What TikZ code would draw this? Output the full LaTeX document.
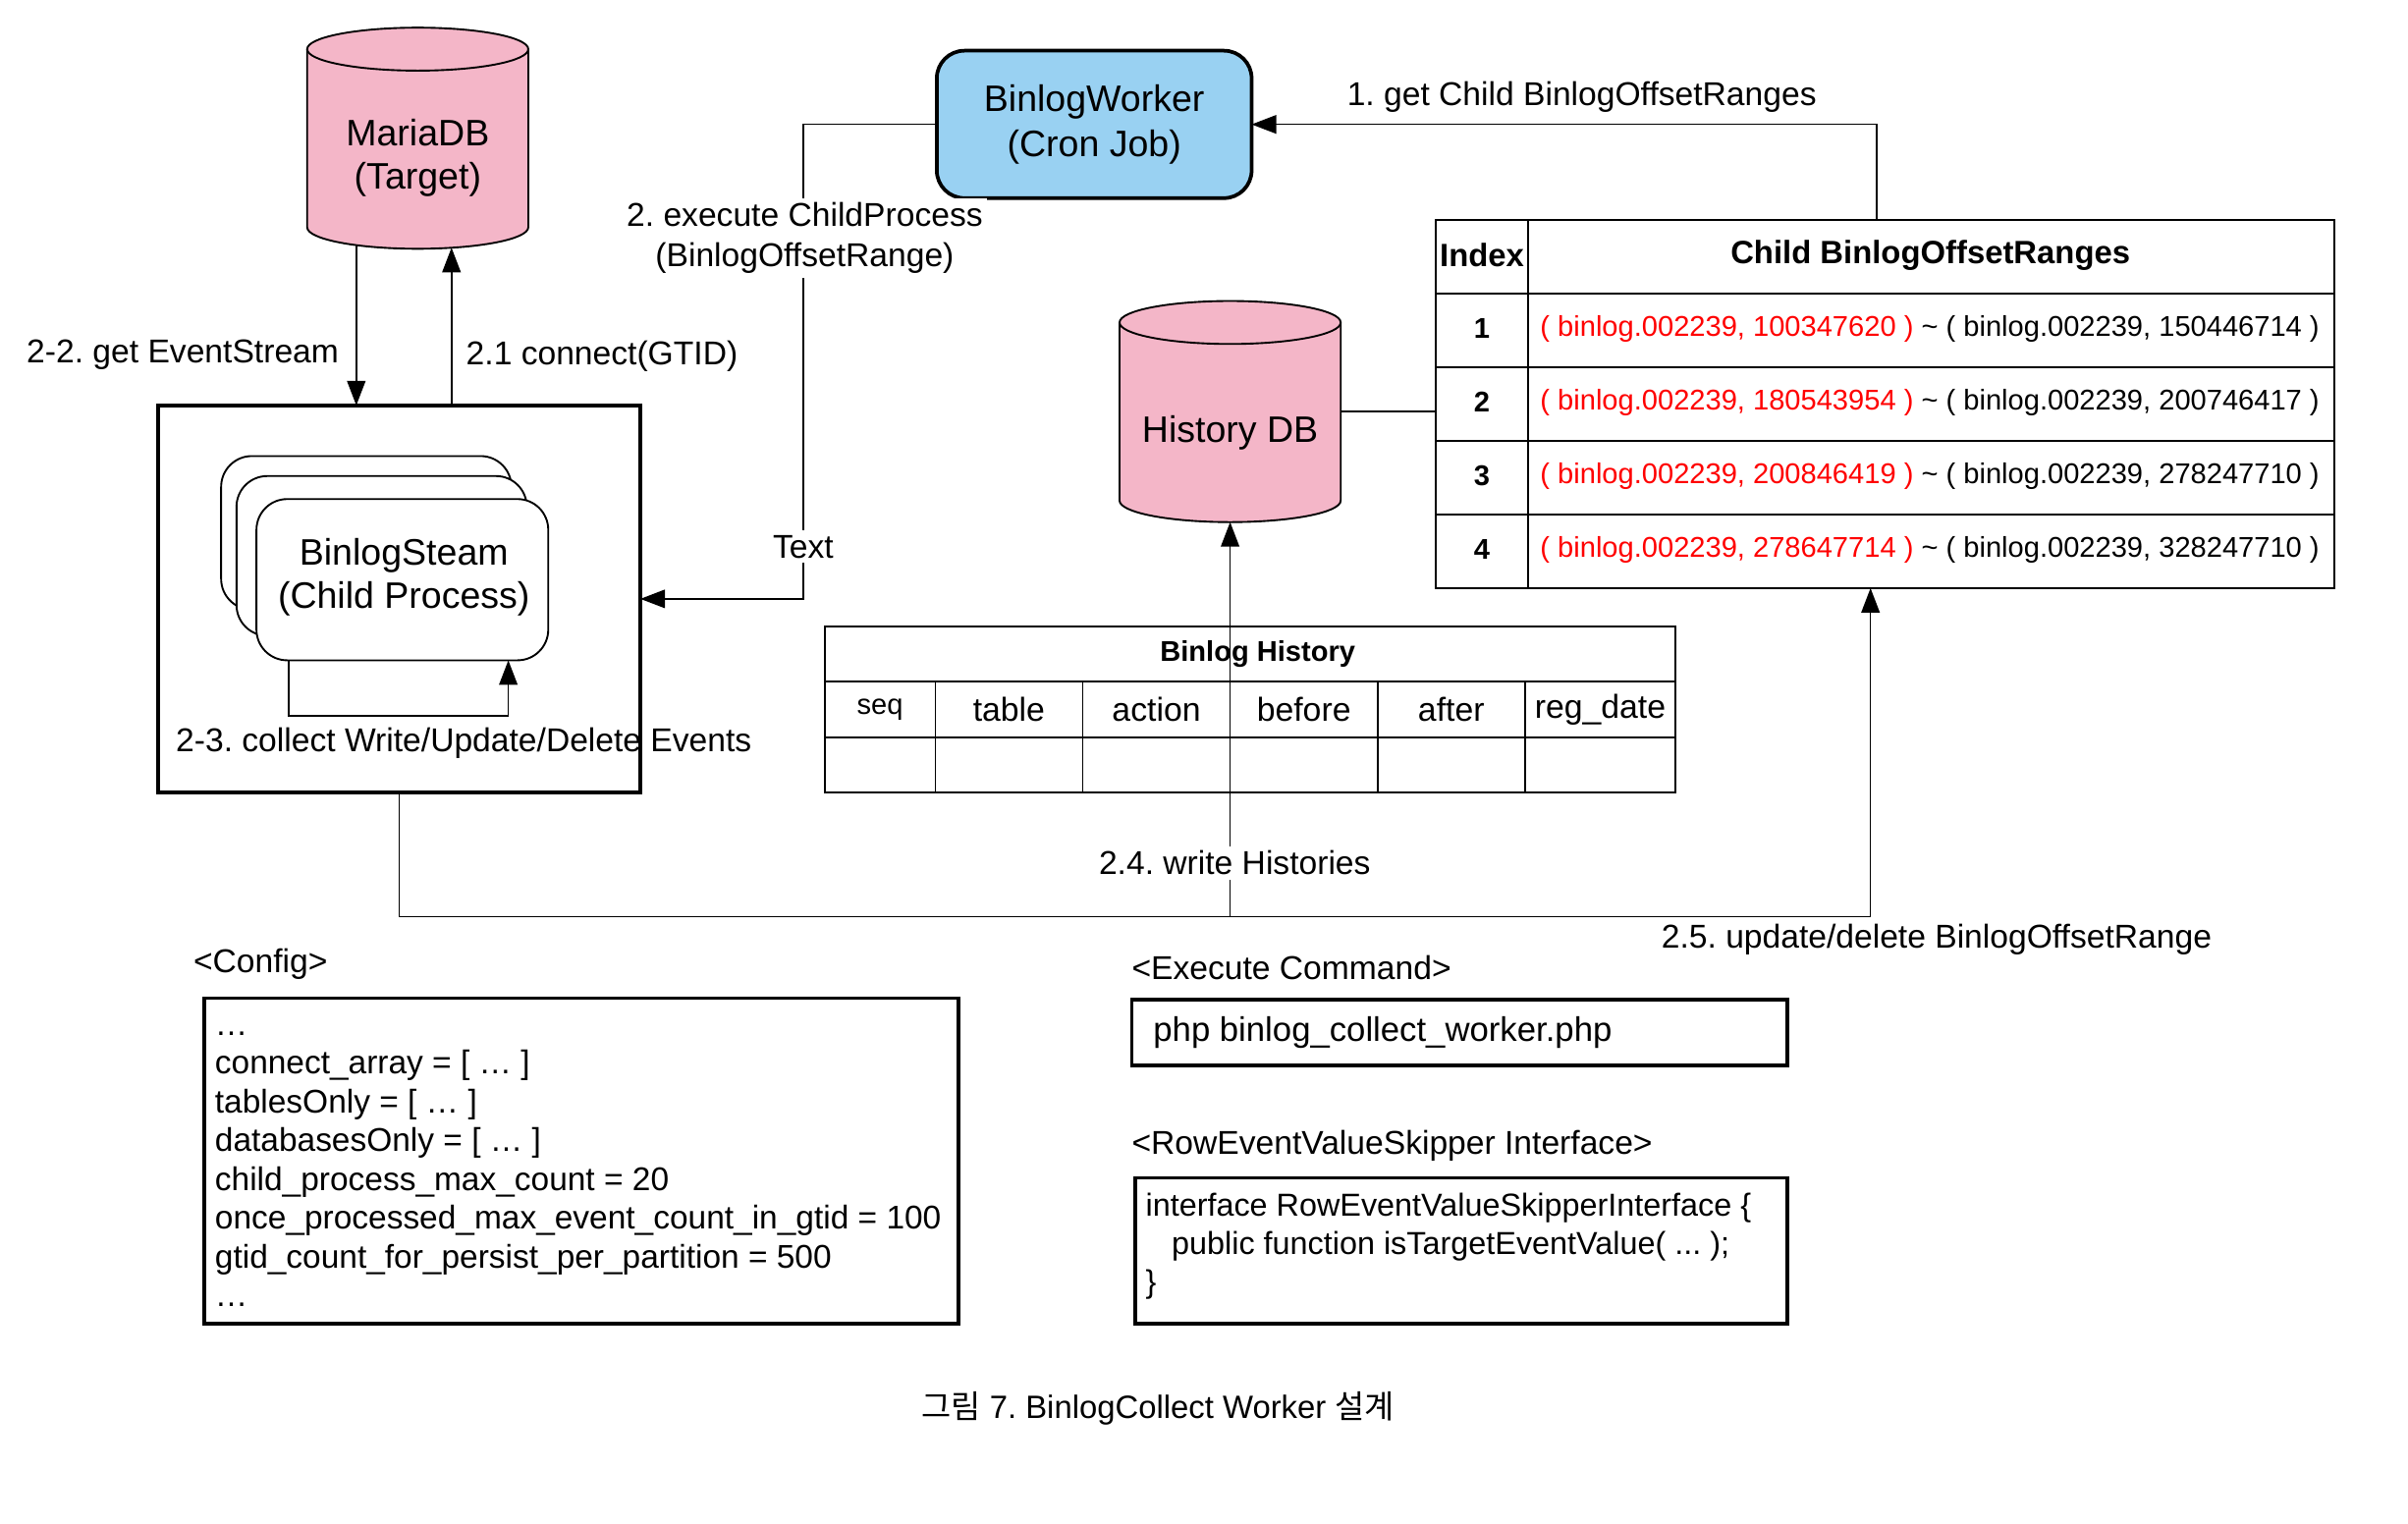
\documentclass[tikz,border=0pt]{standalone}
\usepackage{fontspec}
\setmainfont{Liberation Sans}
\newfontfamily\krfont{Noto Sans CJK KR}
\usetikzlibrary{arrows.meta,backgrounds}

\definecolor{dbpink}{RGB}{244,182,200}
\definecolor{jobblue}{RGB}{153,209,242}
\definecolor{startred}{RGB}{255,0,0}

\newcommand{\fsz}[2]{\fontsize{#1}{#2}\selectfont}
% database cylinder drawn around a named node (#1), half width #2
\newcommand{\dbcylinder}[2]{%
  \draw[fill=dbpink, line width=0.6pt]
    ([yshift=-7pt]#1.north west) -- ([yshift=7pt]#1.south west)
    arc[start angle=180, end angle=360, x radius=#2, y radius=7pt]
    -- ([yshift=-7pt]#1.north east)
    arc[start angle=0, end angle=180, x radius=#2, y radius=7pt] -- cycle;
  \draw[line width=0.6pt] ([yshift=-7pt]#1.north west)
    arc[start angle=180, end angle=360, x radius=#2, y radius=7pt];}

\begin{document}
\frenchspacing
\begin{tikzpicture}[x=0.5pt, y=-0.5pt,
  every node/.style={inner sep=0pt, outer sep=0pt},
  conn/.style={line width=0.5pt},
  arr/.style={conn, -{Triangle[length=8pt,width=6pt]}},
  thickbox/.style={draw, line width=1.2pt},
  lbl/.style={font=\fsz{10.75}{13}},
  onwhite/.style={lbl, fill=white, inner sep=1.5pt},
  nodetext/.style={font=\fsz{12}{14}, align=center},
  procbox/.style={draw, fill=white, line width=0.6pt, rounded corners=10pt},
  rangetext/.style={font=\fsz{9.3}{11}},
  idxtext/.style={font=\bfseries\fsz{9.3}{11}},
  colhead/.style={font=\fsz{10.8}{13}},
  codeline/.style={font=\fsz{10.7}{12.65}}
]
\useasboundingbox (0,0) rectangle (1568,992);

% ---------- databases ----------
\node[minimum width=72pt, minimum height=72pt] (maria) at (272,90) {};
\node[nodetext] (mariatxt) at ([yshift=-6.5pt]maria.center) {MariaDB\\(Target)};
\node[minimum width=72pt, minimum height=72pt] (hist) at (801,268) {};
\node[nodetext] (histtxt) at ([yshift=-7pt]hist.center) {History DB};

% ---------- cron job ----------
\node[thickbox, fill=jobblue, rounded corners=9pt, minimum width=102.5pt,
      minimum height=48pt, nodetext, font=\fsz{12}{14.5}] (worker) at (712.5,81)
      {BinlogWorker\\(Cron Job)};

% ---------- child process container ----------
\node[thickbox, minimum width=157pt, minimum height=126pt] (proc) at (260,390) {};
\node[procbox, minimum width=94.5pt, minimum height=50pt] (cp3) at (238.5,347) {};
\node[procbox, minimum width=94.5pt, minimum height=52pt] (cp2) at (248.5,362) {};
\node[procbox, minimum width=95pt, minimum height=52.5pt] (cp1) at (262,377.5) {};
\node[nodetext] (cptxt) at (263,376) {BinlogSteam\\(Child Process)};

% ---------- child offset ranges table ----------
\node[draw, line width=0.7pt, minimum width=292.5pt, minimum height=120pt] (ranges) at (1227.5,263) {};
\draw[line width=0.5pt] (995,143) -- (995,383);
\foreach \y in {191,239,287,335} \draw[line width=0.7pt] (935,\y) -- (1520,\y);
\node[font=\bfseries\fsz{10.5}{12}] (idxhead) at (965,166) {Index};
\node[font=\bfseries\fsz{10.5}{12}] (rnghead) at (1257,166) {Child BinlogOffsetRanges};
\foreach \n/\s/\e in {1/100347620/150446714, 2/180543954/200746417,
                      3/200846419/278247710, 4/278647714/328247710} {
  \node[idxtext] (idx\n) at (965,{166+48*\n}) {\n};
  \node[rangetext, anchor=west] (rng\n) at (1003,{166+48*\n})
    {\textcolor{startred}{( binlog.002239, \s{} )} \textasciitilde{} ( binlog.002239, \e{} )};
}

% ---------- binlog history table ----------
\node[draw, fill=white, line width=0.8pt, minimum width=277pt, minimum height=54pt] (bh) at (814,462) {};
\draw[line width=0.6pt] (537,444) -- (1091,444) (537,480) -- (1091,480);
\foreach \x in {609,705,801,897,993} \draw[line width=0.5pt] (\x,444) -- (\x,516);
\node[font=\bfseries\fsz{9.3}{11}] (bhhead) at (819,426) {Binlog History};
\node[font=\fsz{9.3}{11}] (cseq) at (573,462) {seq};
\foreach \x/\t in {657/table, 753/action, 849/before, 945/after, 1042/reg\_date}
  \node[colhead] at (\x,462) {\t};

% ---------- connectors ----------
\coordinate (mA) at (232,159.6);
\coordinate (mB) at (294,161.3);
\draw[arr] ([xshift=-2.75pt]ranges.north) |- (worker.east);
\draw[arr] (worker.west) -- ++(-87,0) |- (proc.east);
\draw[arr] (mA) -- (mA |- proc.north);
\draw[arr] (mB |- proc.north) -- (mB);
\draw[arr] ([xshift=10.5pt]cp1.south west) -- ++(0,36) -| ([xshift=-13pt]cp1.south east);
\draw[arr] (proc.south) -- ++(0,81) coordinate (bus) -| ([xshift=-4.75pt]ranges.south);
\draw[arr] (bus -| hist.south) -- (hist.south);
\draw[conn] (hist.east) -- (ranges.west |- hist.east);

% ---------- connector labels ----------
\node[lbl] (l1) at (1030,63) {1. get Child BinlogOffsetRanges};
\node[lbl] (l22) at (119,231) {2-2. get EventStream};
\node[lbl] (l21) at (392,232) {2.1 connect(GTID)};
\node[onwhite, align=center] (l2) at (524,155) {2. execute ChildProcess\\(BinlogOffsetRange)};
\node[onwhite] (ltext) at (523,356) {Text};
\node[lbl] (l23) at (302,484) {2-3. collect Write/Update/Delete Events};
\node[onwhite] (l24) at (804,562) {2.4. write Histories};
\node[lbl] (l25) at (1261,612) {2.5. update/delete BinlogOffsetRange};

% ---------- config ----------
\node[lbl, anchor=west] (cfgtitle) at (126,628) {<Config>};
\node[thickbox, minimum width=245.5pt, minimum height=106pt] (cfg) at (378.5,756) {};
\node[codeline, anchor=base west] (cfgtxt) at (140,674) {%
  \begin{tabular}[t]{@{}l@{}}
  …\\
  connect\_array = [ … ]\\
  tablesOnly = [ … ]\\
  databasesOnly = [ … ]\\
  child\_process\_max\_count = 20\\
  once\_processed\_max\_event\_count\_in\_gtid = 100\\
  gtid\_count\_for\_persist\_per\_partition = 500\\
  …
  \end{tabular}};

% ---------- execute command ----------
\node[lbl, anchor=west] (exetitle) at (737,630) {<Execute Command>};
\node[thickbox, minimum width=213.5pt, minimum height=21.5pt] (exe) at (950.5,672.5) {};
\node[font=\fsz{11.1}{13}, anchor=base west] (exetxt) at (751,678) {php binlog\_collect\_worker.php};

% ---------- skipper interface ----------
\node[lbl, anchor=west] (ifctitle) at (737,746) {<RowEventValueSkipper Interface>};
\node[thickbox, minimum width=212.5pt, minimum height=47.5pt] (ifc) at (951.5,814.5) {};
\node[font=\fsz{10.35}{12.5}, anchor=base west] (ifctxt) at (746,792) {%
  \begin{tabular}[t]{@{}l@{}}
  interface RowEventValueSkipperInterface \{\\
  \hspace*{8.5pt}public function isTargetEventValue( ... );\\
  \}
  \end{tabular}};

% ---------- caption ----------
\node[font=\fsz{10.5}{12}] (caption) at (754,917)
  {{\krfont 그림} 7. BinlogCollect Worker {\krfont 설계}};

% ---------- background: page and cylinders ----------
\begin{scope}[on background layer]
  \fill[white] (0,0) rectangle (1568,992);
  \dbcylinder{maria}{36pt}
  \dbcylinder{hist}{36pt}
\end{scope}
\end{tikzpicture}
\end{document}
